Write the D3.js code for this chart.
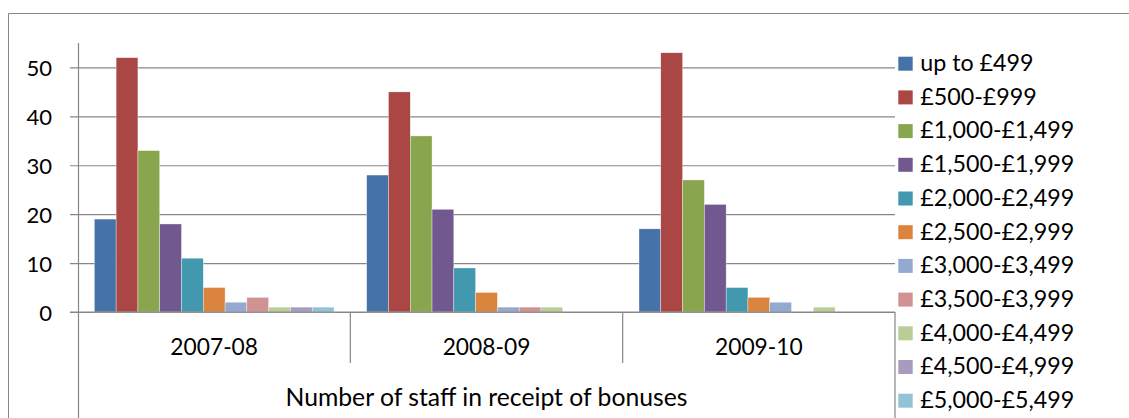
<!DOCTYPE html>
<html>
<head>
<meta charset="utf-8">
<script src="https://cdn.jsdelivr.net/npm/d3@7"></script>
<style>
  html, body { margin: 0; padding: 0; background: #fff; }
  svg { display: block; }
  text { font-family: Lato, "Open Sans", sans-serif; fill: #000; }
</style>
</head>
<body>
<svg id="chart" width="1129" height="418"></svg>
<script>
const categories = ["2007-08", "2008-09", "2009-10"];
const seriesNames = ["up to £499", "£500-£999", "£1,000-£1,499", "£1,500-£1,999", "£2,000-£2,499",
  "£2,500-£2,999", "£3,000-£3,499", "£3,500-£3,999", "£4,000-£4,499", "£4,500-£4,999", "£5,000-£5,499"];
const values2007 = [19, 52, 33, 18, 11, 5, 2, 3, 1, 1, 1];
const values2008 = [28, 45, 36, 21, 9, 4, 1, 1, 1, 0, 0];
const values2009 = [17, 53, 27, 22, 5, 3, 2, 0, 1, 0, 0];
const seriesColors = ["#4572A7", "#AA4643", "#89A54E", "#71588F", "#4198AF", "#DB843D",
  "#93A9CF", "#D19392", "#B9CD96", "#A99BBD", "#91C3D5"];
const yTicks = [0, 10, 20, 30, 40, 50];
const axisTitle = "Number of staff in receipt of bonuses";

const valuesByCat = [values2007, values2008, values2009];
const rows = [];
categories.forEach((c, ci) => seriesNames.forEach((s, si) => rows.push({cat: c, series: s, si, value: valuesByCat[ci][si]})));

const svg = d3.select("#chart");
const gridColor = "#878787";
const plotLeft = 78, plotRight = 895, plotTop = 43, plotBottom = 312;

// fit a text selection's font size so that a reference node reaches a target width
function fitSize(sel, refNode, target) {
  sel.attr("font-size", 22);
  const w = refNode.getComputedTextLength();
  const size = 22 * target / w;
  sel.attr("font-size", size.toFixed(2));
}

const x0 = d3.scaleBand().domain(categories).range([plotLeft, plotRight]).padding(0);
const x1 = d3.scaleBand().domain(seriesNames).range([0, x0.bandwidth()]).paddingInner(0).paddingOuter(0.75);
const y = d3.scaleLinear().domain([0, 55]).range([plotBottom, plotTop]);

// outer chart border (top & left)
svg.append("path").attr("d", "M8.5,418 L8.5,13.5 L1129,13.5")
  .attr("fill", "none").attr("stroke", gridColor).attr("stroke-width", 1);

// gridlines + y axis via d3 axis
const yAxis = d3.axisLeft(y).tickValues(yTicks).tickSize(-(plotRight - plotLeft)).tickPadding(26).tickFormat(d3.format("d"));
const gy = svg.append("g").attr("transform", `translate(${plotLeft},0)`).call(yAxis);
gy.select(".domain").remove();
gy.selectAll(".tick line").attr("stroke", gridColor).attr("stroke-width", 1.2).attr("x1", -8);
const tickTexts = gy.selectAll(".tick text").attr("font-family", "Lato, sans-serif").attr("fill", "#000")
  .attr("dy", null).attr("y", 8.3);
fitSize(tickTexts, tickTexts.filter(d => d === 50).node(), 25.6);

// bars
svg.append("g").selectAll("rect").data(rows).join("rect")
  .attr("x", d => x0(d.cat) + x1(d.series))
  .attr("y", d => y(d.value))
  .attr("width", x1.bandwidth())
  .attr("height", d => y(0) - y(d.value))
  .attr("fill", d => seriesColors[d.si])
  .attr("stroke", "#fff").attr("stroke-width", 0.5).attr("stroke-opacity", 0.7);

// y axis line (extends through category area)
svg.append("line").attr("x1", plotLeft + 0.5).attr("x2", plotLeft + 0.5).attr("y1", plotTop).attr("y2", 418)
  .attr("stroke", gridColor).attr("stroke-width", 1.2);
// x axis baseline
svg.append("line").attr("x1", plotLeft - 8).attr("x2", plotRight).attr("y1", y(0)).attr("y2", y(0))
  .attr("stroke", gridColor).attr("stroke-width", 1.2);
// category separators
const seps = categories.slice(1).map(c => x0(c));
svg.append("g").selectAll("line").data(seps).join("line")
  .attr("x1", d => d).attr("x2", d => d).attr("y1", y(0)).attr("y2", 363)
  .attr("stroke", gridColor).attr("stroke-width", 1.2);
// right boundary of category area
svg.append("line").attr("x1", plotRight).attr("x2", plotRight).attr("y1", y(0)).attr("y2", 418)
  .attr("stroke", gridColor).attr("stroke-width", 1.2);

// category labels
const catTexts = svg.append("g").selectAll("text").data(categories).join("text")
  .attr("x", d => x0(d) + x0.bandwidth() / 2).attr("y", 355)
  .attr("text-anchor", "middle").text(d => d);
fitSize(catTexts, catTexts.node(), 87.7);

// axis title (second-level label)
const title = svg.append("text").attr("x", (plotLeft + plotRight) / 2).attr("y", 406)
  .attr("text-anchor", "middle").text(axisTitle);
fitSize(title, title.node(), 402);

// legend
const legend = svg.append("g").selectAll("g").data(seriesNames).join("g")
  .attr("transform", (d, i) => `translate(898.3,${71 + i * 33.7})`);
legend.append("rect").attr("x", 0).attr("y", -14.3).attr("width", 14.4).attr("height", 14)
  .attr("fill", (d, i) => seriesColors[i]);
const legTexts = legend.append("text").attr("x", 22).attr("y", 0).text(d => d);
fitSize(legTexts, legTexts.filter((d, i) => i === 2).node(), 154);
</script>
</body>
</html>
